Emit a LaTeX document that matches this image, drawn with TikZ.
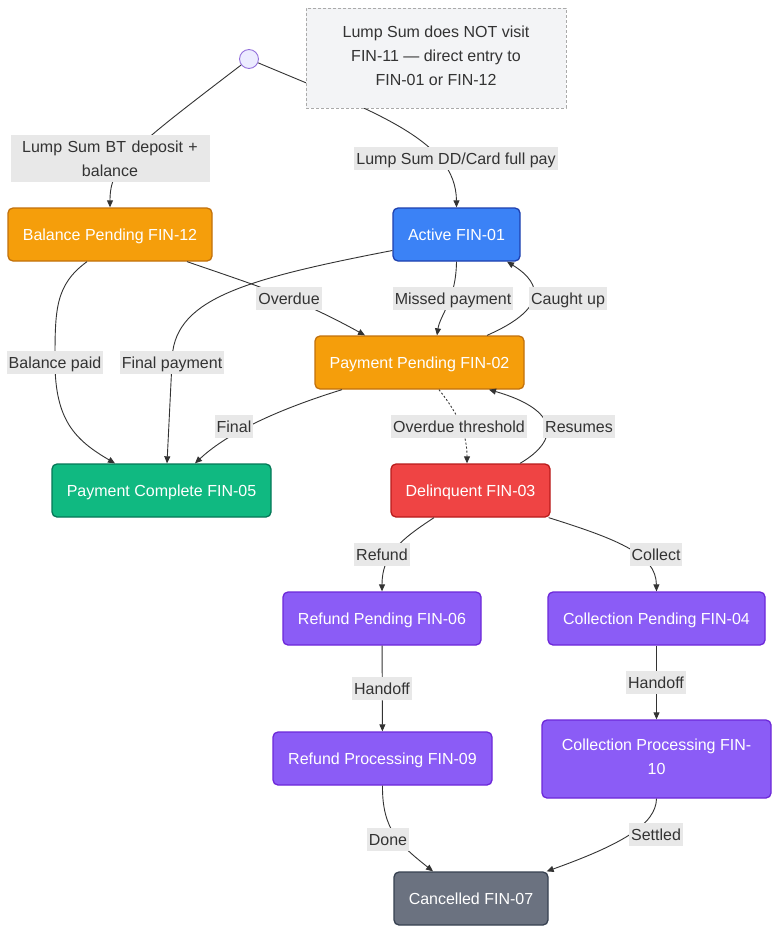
\documentclass[tikz,border=0pt]{standalone}
\usepackage{fontspec}
\setmainfont{Liberation Sans}
\usetikzlibrary{arrows.meta}
\definecolor{EdgeGray}{HTML}{333333}
\definecolor{TextDark}{HTML}{333333}
\definecolor{LabelGray}{HTML}{E8E8E8}
\definecolor{NoteFill}{HTML}{F3F4F6}
\definecolor{NoteLine}{HTML}{AAAAAA}
\definecolor{StartFill}{HTML}{ECECFF}
\definecolor{StartLine}{HTML}{9370DB}
\definecolor{OrangeFill}{HTML}{F59E0B}
\definecolor{OrangeLine}{HTML}{C2710C}
\definecolor{BlueFill}{HTML}{3B82F6}
\definecolor{BlueLine}{HTML}{1E40AF}
\definecolor{GreenFill}{HTML}{10B981}
\definecolor{GreenLine}{HTML}{047857}
\definecolor{RedFill}{HTML}{EF4444}
\definecolor{RedLine}{HTML}{B91C1C}
\definecolor{PurpleFill}{HTML}{8B5CF6}
\definecolor{PurpleLine}{HTML}{6D28D9}
\definecolor{SlateFill}{HTML}{6B7280}
\definecolor{SlateLine}{HTML}{374151}
\newcommand{\linestrut}{\rule[-4pt]{0pt}{19pt}}

\begin{document}
\begin{tikzpicture}[
        x=1pt, y=-1pt,
        font=\fontsize{16}{24}\selectfont,
        execute at begin node=\linestrut, execute at end node=\linestrut,
        state/.style={draw, rounded corners=5pt, line width=1.3pt, text=white, align=center, minimum height=53pt, inner xsep=6pt},
        lbl/.style={fill=LabelGray, text=TextDark, align=center, inner xsep=2pt, inner ysep=2pt},
        memo/.style={draw=NoteLine, dash pattern=on 3pt off 2pt, line width=0.9pt, fill=NoteFill, text=TextDark, align=center, minimum width=260pt, minimum height=100pt},
        edge/.style={draw=EdgeGray, line width=0.9pt},
        >={Triangle[length=7pt, width=6pt]}
    ]
        \fill[white] (0,0) rectangle (780,934);
        \node[circle, draw=StartLine, fill=StartFill, line width=0.9pt, minimum size=15pt, inner sep=0pt, execute at begin node={}, execute at end node={}] (start) at (249,59) {};
        \node[state, fill=OrangeFill, draw=OrangeLine, minimum width=204pt] (bal) at (110,234.5) {Balance Pending FIN-12};
        \node[state, fill=BlueFill, draw=BlueLine, minimum width=127pt] (act) at (456.5,234.5) {Active FIN-01};
        \node[state, fill=OrangeFill, draw=OrangeLine, minimum width=209pt] (pp) at (419.5,362.5) {Payment Pending FIN-02};
        \node[state, fill=GreenFill, draw=GreenLine, minimum width=219pt] (pc) at (161.5,490.5) {Payment Complete FIN-05};
        \node[state, fill=RedFill, draw=RedLine, minimum width=159pt] (del) at (470.5,490.5) {Delinquent FIN-03};
        \node[state, fill=PurpleFill, draw=PurpleLine, minimum width=198pt] (rp) at (382,618.5) {Refund Pending FIN-06};
        \node[state, fill=PurpleFill, draw=PurpleLine, minimum width=217pt] (cp) at (656.5,618.5) {Collection Pending FIN-04};
        \node[state, fill=PurpleFill, draw=PurpleLine, minimum width=219pt] (rproc) at (382.5,758.5) {Refund Processing FIN-09};
        \node[state, fill=PurpleFill, draw=PurpleLine, minimum width=229pt, minimum height=78pt] (cproc) at (656.5,759) {Collection Processing FIN-\\10};
        \node[state, fill=SlateFill, draw=SlateLine, minimum width=154pt] (can) at (471,898.5) {Cancelled FIN-07};

        \draw[edge, ->] (start) .. controls (130,150) and (110,165) .. (bal.north);
        \draw[edge, ->] (start) .. controls (375,112) and (456,140) .. (act.north);
        \draw[edge, ->] ([xshift=77pt]bal.south) to[out=-19, in=151] ([xshift=-54.5pt]pp.north);
        \draw[edge, ->] ([yshift=-16pt]act.west) .. controls (240,280) and (172,300) .. (172,362) -- ([xshift=5.5pt]pc.north);
        \draw[edge, ->] (act.south) .. controls (456,300) and (440,315) .. ([xshift=17.5pt]pp.north);
        \draw[edge, ->] ([xshift=67.5pt]pp.north) .. controls (545,310) and (545,285) .. ([xshift=50.5pt]act.south);
        \draw[edge, ->] ([xshift=-23pt]bal.south) .. controls (55,285) and (55,310) .. (55,362) .. controls (55,420) and (75,440) .. ([xshift=-46.5pt]pc.north);
        \draw[edge, ->] ([xshift=-77.5pt]pp.south) .. controls (260,415) and (220,440) .. ([xshift=33.5pt]pc.north);
        \draw[edge, ->, dash pattern=on 2pt off 2pt] ([xshift=19.5pt]pp.south) .. controls (455,410) and (467,430) .. ([xshift=-3.5pt]del.north);
        \draw[edge, ->] ([xshift=49.5pt]del.north) .. controls (560,440) and (560,410) .. ([xshift=69.5pt]pp.south);
        \draw[edge, ->] ([xshift=-36.5pt]del.south) .. controls (400,540) and (382,555) .. (rp.north);
        \draw[edge, ->] ([xshift=-2pt]del.south east) .. controls (620,540) and (656,555) .. (cp.north);
        \draw[edge, ->] (rp) -- (rproc);
        \draw[edge, ->] (cp) -- (cproc);
        \draw[edge, ->] (rproc.south) .. controls (382,830) and (400,845) .. ([xshift=-38pt]can.north);
        \draw[edge, ->] (cproc.south) .. controls (656,825) and (620,845) .. ([xshift=-2pt]can.north east);

        % edge labels
        \node[lbl, text width=195pt] (lbt) at (110,158.5) {Lump Sum BT deposit +\\balance};
        \node[lbl] (ldd) at (456,158.5) {Lump Sum DD/Card full pay};
        \node[lbl] (lover) at (289,298.5) {Overdue};
        \node[lbl] (lmiss) at (453,298.5) {Missed payment};
        \node[lbl] (lcaught) at (568,298.5) {Caught up};
        \node[lbl] (lbpaid) at (55,362.5) {Balance paid};
        \node[lbl] (lfpay) at (172,362.5) {Final payment};
        \node[lbl] (lfinal) at (234,426.5) {Final};
        \node[lbl] (lthresh) at (459,426.5) {Overdue threshold};
        \node[lbl] (lres) at (579,426.5) {Resumes};
        \node[lbl] (lref) at (382,554.5) {Refund};
        \node[lbl] (lcoll) at (656,554.5) {Collect};
        \node[lbl] (lhand) at (382,688.5) {Handoff};
        \node[lbl] (lhandc) at (656,682.5) {Handoff};
        \node[lbl] (ldone) at (388,839.5) {Done};
        \node[lbl] (lsettle) at (656,834.5) {Settled};

        \node[memo] (note) at (436,58) {Lump Sum does NOT visit\\FIN-11 — direct entry to\\FIN-01 or FIN-12};
    \end{tikzpicture}
\end{document}
